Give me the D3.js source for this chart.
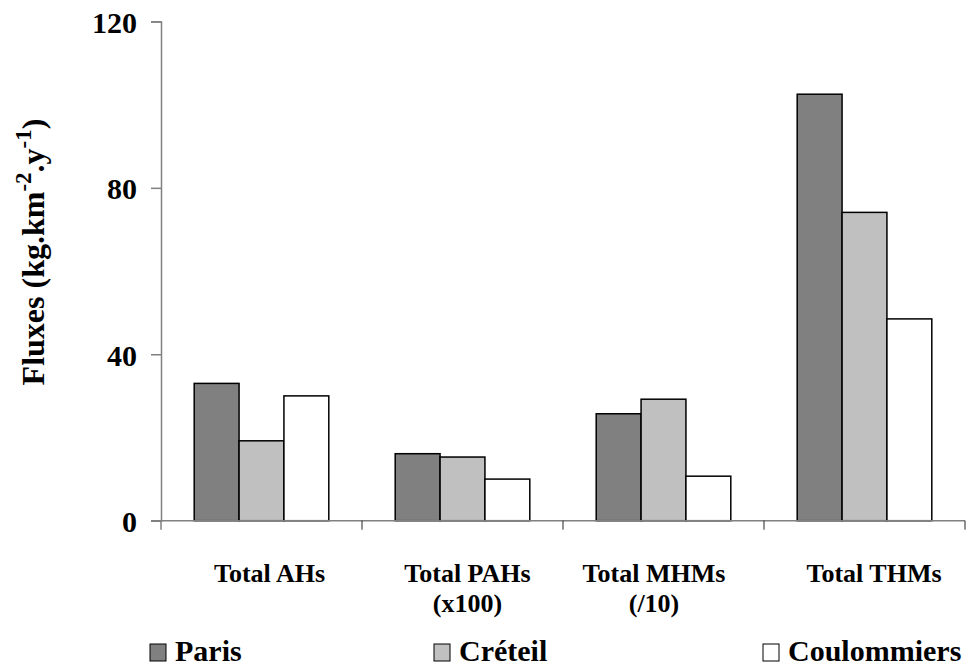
<!DOCTYPE html>
<html>
<head>
<meta charset="utf-8">
<script src="https://cdn.jsdelivr.net/npm/d3@7"></script>
<style>
  html, body { margin: 0; padding: 0; background: #fff; }
  svg { display: block; }
  text { font-family: "Liberation Serif", "Times New Roman", serif; font-weight: bold; fill: #000; }
</style>
</head>
<body>
<svg id="chart" width="970" height="669"></svg>
<script>
// ---- data ----
const categories = ["Total AHs", "Total PAHs", "Total MHMs", "Total THMs"];
const categorySubLabels = ["", "(x100)", "(/10)", ""];
const seriesNames = ["Paris", "Créteil", "Coulommiers"];
const paris = [33.0, 16.1, 25.7, 102.5];
const creteil = [19.2, 15.3, 29.2, 74.1];
const coulommiers = [30.0, 10.0, 10.7, 48.5];
const yTicks = [0, 40, 80, 120];

// ---- layout ----
const seriesValues = [paris, creteil, coulommiers];
const colors = ["#808080", "#c0c0c0", "#ffffff"];
const svg = d3.select("#chart");

const x = d3.scaleBand().domain(categories).range([161, 965]).paddingInner(0).paddingOuter(0);
const xs = d3.scaleBand().domain(seriesNames).range([0, x.bandwidth()]).paddingInner(0).paddingOuter(0.74);
const y = d3.scaleLinear().domain([0, 120]).range([520.7, 21.4]);

// bars
const groups = svg.append("g").selectAll("g")
  .data(categories).join("g")
  .attr("transform", d => `translate(${x(d)},0)`);

groups.selectAll("rect")
  .data((c, i) => seriesNames.map((s, j) => ({ s, v: seriesValues[j][i], c: colors[j] })))
  .join("rect")
  .attr("x", d => xs(d.s))
  .attr("y", d => y(d.v))
  .attr("width", xs.bandwidth())
  .attr("height", d => y(0) - y(d.v))
  .attr("fill", d => d.c)
  .attr("stroke", "#000")
  .attr("stroke-width", 1.5);

// x axis (category boundaries)
const xb = svg.append("g");
xb.append("line")
  .attr("x1", 151).attr("x2", 965)
  .attr("y1", y(0)).attr("y2", y(0))
  .attr("stroke", "#808080").attr("stroke-width", 1.5);
const bounds = categories.map(c => x(c)).concat([x.range()[1]]);
xb.selectAll("line.t").data(bounds).join("line")
  .attr("class", "t")
  .attr("x1", d => d).attr("x2", d => d)
  .attr("y1", y(0)).attr("y2", y(0) + 9)
  .attr("stroke", d => d === bounds[0] ? "#808080" : "#222")
  .attr("stroke-width", d => d === bounds[0] ? 1.5 : 1);

// y axis
const yAxis = d3.axisLeft(y).tickValues(yTicks).tickSize(10).tickPadding(14);
const ya = svg.append("g").attr("transform", "translate(161,0)").call(yAxis);
ya.attr("font-size", 30).attr("font-family", "Liberation Serif, Times New Roman, serif");
ya.select(".domain").attr("stroke", "#808080").attr("stroke-width", 1.5);
ya.selectAll(".tick line").attr("stroke", "#808080").attr("stroke-width", 1.5);
ya.selectAll(".tick text")
  .style("font-size", "30px")
  .style("font-weight", "bold")
  .attr("fill", "#000")
  .attr("dy", "0.36em");

// category labels
const labelNudge = [8, 5, -9.5, 9.5];
svg.append("g").selectAll("text")
  .data(categories).join("text")
  .attr("text-anchor", "middle")
  .style("font-size", "26px")
  .attr("x", (d, i) => x(d) + x.bandwidth() / 2 + labelNudge[i])
  .attr("y", 581.7)
  .text(d => d);
svg.append("g").selectAll("text")
  .data(categorySubLabels).join("text")
  .attr("text-anchor", "middle")
  .style("font-size", "26px")
  .attr("x", (d, i) => x(categories[i]) + x.bandwidth() / 2 + labelNudge[i])
  .attr("y", 611.7)
  .text(d => d);

// y title
const yt = svg.append("text")
  .attr("transform", "translate(44,252) rotate(-90)")
  .attr("text-anchor", "middle")
  .style("font-size", "32px");
yt.append("tspan").text("Fluxes (kg.km");
yt.append("tspan").style("font-size", "23px").attr("dy", -13).text("-2");
yt.append("tspan").attr("dy", 13).text(".y");
yt.append("tspan").style("font-size", "23px").attr("dy", -13).text("-1");
yt.append("tspan").attr("dy", 13).text(")");

// legend
const legendX = [150, 434, 763];
const lg = svg.append("g").selectAll("g")
  .data(seriesNames).join("g")
  .attr("transform", (d, i) => `translate(${legendX[i]},0)`);
lg.append("rect")
  .attr("x", 0).attr("y", 644)
  .attr("width", 16).attr("height", 17)
  .attr("fill", (d, i) => colors[i])
  .attr("stroke", "#000").attr("stroke-width", 1);
lg.append("text")
  .attr("x", 25).attr("y", 661)
  .style("font-size", "30px")
  .text(d => d);
</script>
</body>
</html>
